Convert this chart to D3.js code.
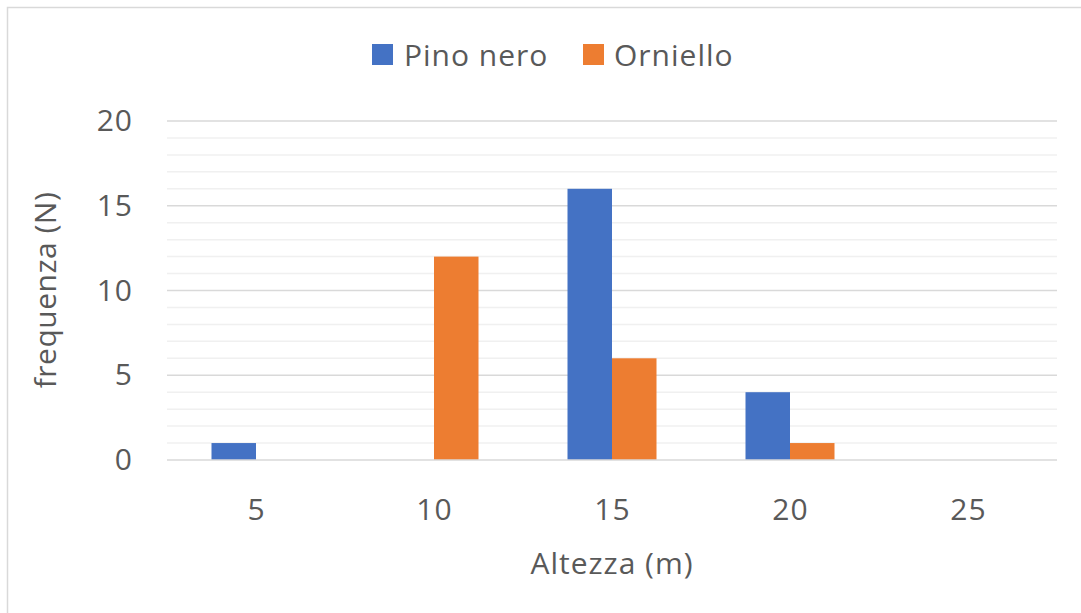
<!DOCTYPE html>
<html>
<head>
<meta charset="utf-8">
<script src="https://cdn.jsdelivr.net/npm/d3@7"></script>
<style>
  html, body { margin: 0; padding: 0; background: #fff; }
  svg { display: block; }
  text { font-family: "Open Sans", sans-serif; fill: #595959; }
</style>
</head>
<body>
<svg id="chart" width="1081" height="613"></svg>
<script>
// Height classes (m) and counts per species
const categories = ["5", "10", "15", "20", "25"];
const seriesNames = ["Pino nero", "Orniello"];
const pinoNero = [1, 0, 16, 4, 0];
const orniello = [0, 12, 6, 1, 0];
const yTicks = [0, 5, 10, 15, 20];
const colors = ["#4472C4", "#ED7D31"];

const svg = d3.select("#chart");
const W = 1081, H = 613;
const FONT = "'Open Sans', sans-serif";

// outer chart frame
svg.append("rect")
  .attr("x", 7.5).attr("y", 7.5)
  .attr("width", W + 10).attr("height", H + 10)
  .attr("fill", "#fff").attr("stroke", "#d9d9d9").attr("stroke-width", 1.5);

const plot = { left: 167, right: 1057, top: 121, bottom: 460 };

const x = d3.scaleBand().domain(categories)
  .range([plot.left, plot.right]).paddingInner(0.5).paddingOuter(0.25);
const xs = d3.scaleBand().domain(seriesNames).range([0, x.bandwidth()]);
const y = d3.scaleLinear().domain([0, 20]).range([plot.bottom, plot.top]);

// minor gridlines every unit
const minor = d3.range(1, 20).filter(v => v % 5 !== 0);
svg.append("g").selectAll("line").data(minor).join("line")
  .attr("x1", plot.left).attr("x2", plot.right)
  .attr("y1", d => y(d)).attr("y2", d => y(d))
  .attr("stroke", "#f0f0f0").attr("stroke-width", 1.5);

// major gridlines
svg.append("g").selectAll("line").data(yTicks.filter(v => v > 0)).join("line")
  .attr("x1", plot.left).attr("x2", plot.right)
  .attr("y1", d => y(d)).attr("y2", d => y(d))
  .attr("stroke", "#d9d9d9").attr("stroke-width", 1.5);

// bars
const data = [pinoNero, orniello];
data.forEach((vals, si) => {
  svg.append("g").selectAll("rect").data(vals).join("rect")
    .attr("x", (d, i) => x(categories[i]) + xs(seriesNames[si]))
    .attr("width", xs.bandwidth())
    .attr("y", d => y(d))
    .attr("height", d => y(0) - y(d))
    .attr("fill", colors[si]);
});

// baseline
svg.append("line")
  .attr("x1", plot.left).attr("x2", plot.right)
  .attr("y1", y(0)).attr("y2", y(0))
  .attr("stroke", "#d9d9d9").attr("stroke-width", 1.5);

// y axis labels
const yAxis = d3.axisLeft(y).tickValues(yTicks).tickSize(0).tickPadding(0);
const yg = svg.append("g").attr("transform", `translate(133,0)`).call(yAxis);
yg.select(".domain").remove();
yg.selectAll("text").style("font-size", "30px").style("letter-spacing", "1px")
  .attr("fill", "#595959").style("font-family", FONT);

// x axis labels
const xAxis = d3.axisBottom(x).tickSize(0).tickPadding(0);
const xg = svg.append("g").attr("transform", `translate(0,${plot.bottom + 39})`).call(xAxis);
xg.select(".domain").remove();
xg.selectAll("text").style("font-size", "30px").style("letter-spacing", "1px")
  .attr("dx", "0.5px")
  .attr("fill", "#595959").style("font-family", FONT);

// axis titles
svg.append("text")
  .attr("x", 612).attr("y", 574)
  .attr("text-anchor", "middle")
  .style("font-size", "30px").style("letter-spacing", "1px")
  .text("Altezza (m)");

svg.append("text")
  .attr("transform", "translate(56,290) rotate(-90)")
  .attr("text-anchor", "middle")
  .style("font-size", "30px").style("letter-spacing", "0.5px")
  .text("frequenza (N)");

// legend
const legendItems = [
  { name: seriesNames[0], color: colors[0], sx: 372, tx: 404 },
  { name: seriesNames[1], color: colors[1], sx: 583, tx: 614 }
];
const lg = svg.append("g");
legendItems.forEach(d => {
  lg.append("rect").attr("x", d.sx).attr("y", 44).attr("width", 21).attr("height", 21)
    .attr("fill", d.color);
  lg.append("text").attr("x", d.tx).attr("y", 66)
    .style("font-size", "30px").style("letter-spacing", "1px").text(d.name);
});
</script>
</body>
</html>
